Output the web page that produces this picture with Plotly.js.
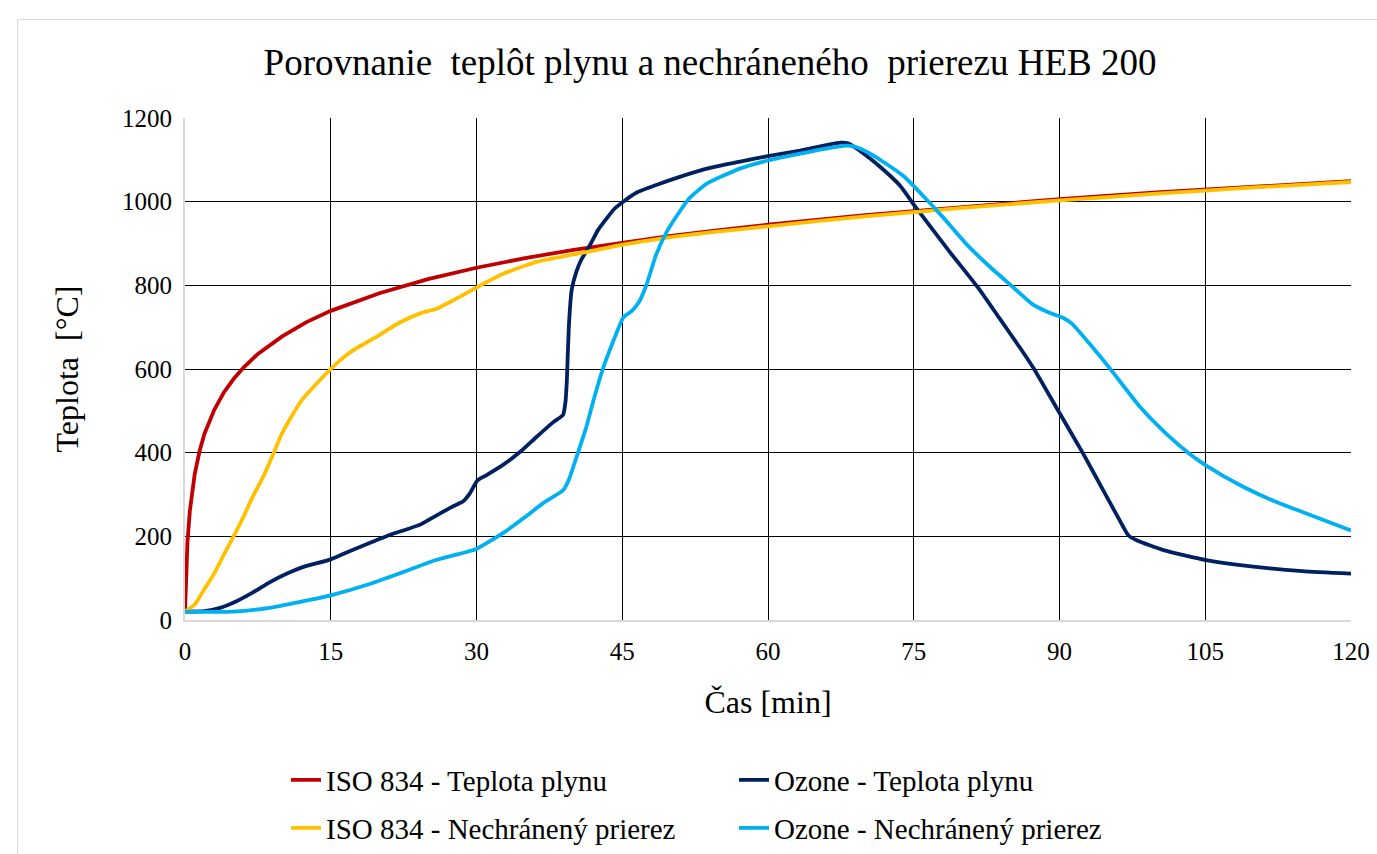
<!DOCTYPE html>
<html>
<head>
<meta charset="utf-8">
<script src="https://cdn.plot.ly/plotly-3.0.1.min.js"></script>
<style>
  html, body { margin: 0; padding: 0; background: #ffffff; }
  #chart { width: 1377px; height: 854px; }
  #frame { position: absolute; left: 17px; top: 19px; width: 1380px; height: 860px;
           border: 1px solid #d9d9d9; pointer-events: none; }
</style>
</head>
<body>
<div id="chart"></div>
<div id="frame"></div>
<script>
// ---- data ----
const seriesNames = [
  "ISO 834 - Teplota plynu",
  "Ozone - Teplota plynu",
  "ISO 834 - Nechránený prierez",
  "Ozone - Nechránený prierez"
];

const isoGasTime = [0, 0.1, 0.25, 0.5, 0.75, 1, 1.5, 2, 3, 4, 5, 6, 7.5, 10, 12.5, 15, 20, 25, 30, 35, 40, 45, 50, 55, 60, 70, 80, 90, 100, 110, 120];
const isoGasTemp = [20, 108, 185, 261, 312, 349, 404, 445, 502, 544, 576, 603, 636, 678, 712, 739, 781, 815, 842, 865, 885, 902, 918, 932, 945, 968, 988, 1006, 1022, 1036, 1049];

const ozoneGasTime = [0, 2, 3.6, 5.3, 7, 8.7, 10.5, 12.2, 15, 17.3, 20.8, 24.2, 25.9, 27.6, 28.6, 29.3, 30.1, 31, 32.8, 34.5, 36.2, 37.9, 38.9, 39.15, 39.3, 39.5, 39.8, 40.3, 40.8, 41.7, 42.5, 43.4, 44.2, 45.1, 46.5, 48.5, 51, 53.7, 57, 60, 63.3, 66, 67.5, 68.3, 69, 70, 71.5, 73.6, 75.1, 78.7, 81.6, 83.8, 85.9, 87.3, 90.05, 92.45, 94.5, 96.2, 97.1, 98, 100.7, 105.1, 108.6, 115, 120];
const ozoneGasTemp = [20, 21, 29, 45, 66, 90, 111, 127, 145, 168, 201, 228, 250, 272, 283, 302, 334, 346, 372, 402, 438, 473, 490, 520, 573, 700, 790, 834, 862, 897, 932, 960, 983, 1000, 1022, 1040, 1060, 1079, 1095, 1109, 1122, 1135, 1141, 1139, 1129, 1112, 1084, 1038, 990, 880, 795, 722, 652, 603, 493, 397, 310, 238, 202, 190, 167, 143, 131, 117, 111];

const isoSecTime = [0, 1, 2, 3, 4, 5, 6, 7, 8, 9, 10, 12, 15, 17, 20, 22, 24.2, 25.9, 27.6, 30.1, 32.8, 36.2, 41.4, 44.8, 50, 55, 60, 70, 80, 90, 100, 110, 120];
const isoSecTemp = [20, 37, 74, 111, 156, 200, 246, 296, 340, 392, 447, 525, 600, 640, 681, 710, 733, 744, 764, 796, 828, 856, 880, 896, 915, 929, 941, 965, 985, 1003, 1019, 1034, 1047];

const ozoneSecTime = [0, 5, 8.7, 12.2, 15, 19, 22.5, 25.9, 30, 31.7, 33, 35, 36.9, 38.9, 39.5, 40.3, 41.3, 42.1, 43, 44.1, 45.1, 46, 46.8, 47.5, 48.5, 49.6, 50.9, 51.9, 53.7, 57.1, 60.07, 63.3, 66, 68, 69, 70, 72, 74, 76, 78, 80.4, 82.8, 85.2, 87.2, 88.9, 90.3, 91.3, 93.4, 95.3, 98.3, 101, 103.4, 105.1, 108.6, 112, 115, 120];
const ozoneSecTemp = [20, 20, 29, 45, 59, 86, 115, 144, 170, 193, 212, 246, 280, 310, 335, 390, 461, 530, 600, 668, 723, 739, 763, 802, 874, 929, 976, 1008, 1043, 1079, 1099, 1115, 1127, 1134, 1131, 1121, 1093, 1060, 1013, 963, 899, 845, 796, 755, 735, 723, 708, 652, 598, 509, 445, 397, 369, 322, 285, 258, 214];

const xTicks = [0, 15, 30, 45, 60, 75, 90, 105, 120];
const yTicks = [0, 200, 400, 600, 800, 1000, 1200];

const colors = ["#C00000", "#002060", "#FFC000", "#00B0F0"];

// ---- chart ----
const FONT = "'Liberation Serif', 'Times New Roman', Times, serif";

function mk(x, y, i, legendId, smooth) {
  return {
    x: x, y: y, name: seriesNames[i], type: "scatter", mode: "lines",
    line: { color: colors[i], width: 3.8, shape: smooth ? "spline" : "linear", smoothing: 0.5 },
    legend: legendId, hoverinfo: "x+y+name"
  };
}

const traces = [
  mk(isoGasTime, isoGasTemp, 0, "legend", false),
  mk(ozoneGasTime, ozoneGasTemp, 1, "legend", true),
  mk(isoSecTime, isoSecTemp, 2, "legend2", true),
  mk(ozoneSecTime, ozoneSecTemp, 3, "legend2", true)
];

const legendCommon = {
  orientation: "h", xref: "container", yref: "container",
  xanchor: "left", yanchor: "middle",
  font: { family: FONT, size: 29, color: "#000" },
  entrywidth: 403, entrywidthmode: "pixels",
  bgcolor: "rgba(0,0,0,0)", itemclick: false, itemdoubleclick: false
};

const layout = {
  width: 1377, height: 854,
  paper_bgcolor: "#ffffff", plot_bgcolor: "#ffffff",
  margin: { l: 185, r: 26, t: 118, b: 234 },
  font: { family: FONT, color: "#000" },
  title: {
    text: "Porovnanie\u00a0 teplôt plynu a nechráneného\u00a0 prierezu HEB 200",
    font: { family: FONT, size: 37, color: "#000" },
    xref: "container", x: 710 / 1377, xanchor: "center",
    yref: "container", y: 1 - 62 / 854, yanchor: "middle"
  },
  xaxis: {
    range: [0, 120], tickvals: xTicks, ticktext: xTicks.map(String),
    showgrid: true, gridcolor: "#000", gridwidth: 1.2,
    showline: true, linecolor: "#d9d9d9", linewidth: 2,
    zeroline: false, ticks: "", ticklabelstandoff: 8,
    tickfont: { family: FONT, size: 25, color: "#000" },
    title: { text: "Čas [min]", font: { family: FONT, size: 32, color: "#000" }, standoff: 27 },
    automargin: false, fixedrange: true
  },
  yaxis: {
    range: [0, 1200], tickvals: yTicks, ticktext: yTicks.map(String),
    showgrid: true, gridcolor: "#000", gridwidth: 1.2,
    showline: true, linecolor: "#d9d9d9", linewidth: 2,
    zeroline: false, ticks: "", ticklabelstandoff: 6,
    tickfont: { family: FONT, size: 25, color: "#000" },
    title: { text: "Teplota\u00a0 [°C]", font: { family: FONT, size: 32, color: "#000" }, standoff: 34 },
    automargin: false, fixedrange: true
  },
  legend: Object.assign({}, legendCommon, { x: 286 / 1377, y: 1 - 780 / 854 }),
  legend2: Object.assign({}, legendCommon, { x: 286 / 1377, y: 1 - 828 / 854 }),
  showlegend: true
};

Plotly.newPlot("chart", traces, layout, { displayModeBar: false, responsive: false });
</script>
</body>
</html>
